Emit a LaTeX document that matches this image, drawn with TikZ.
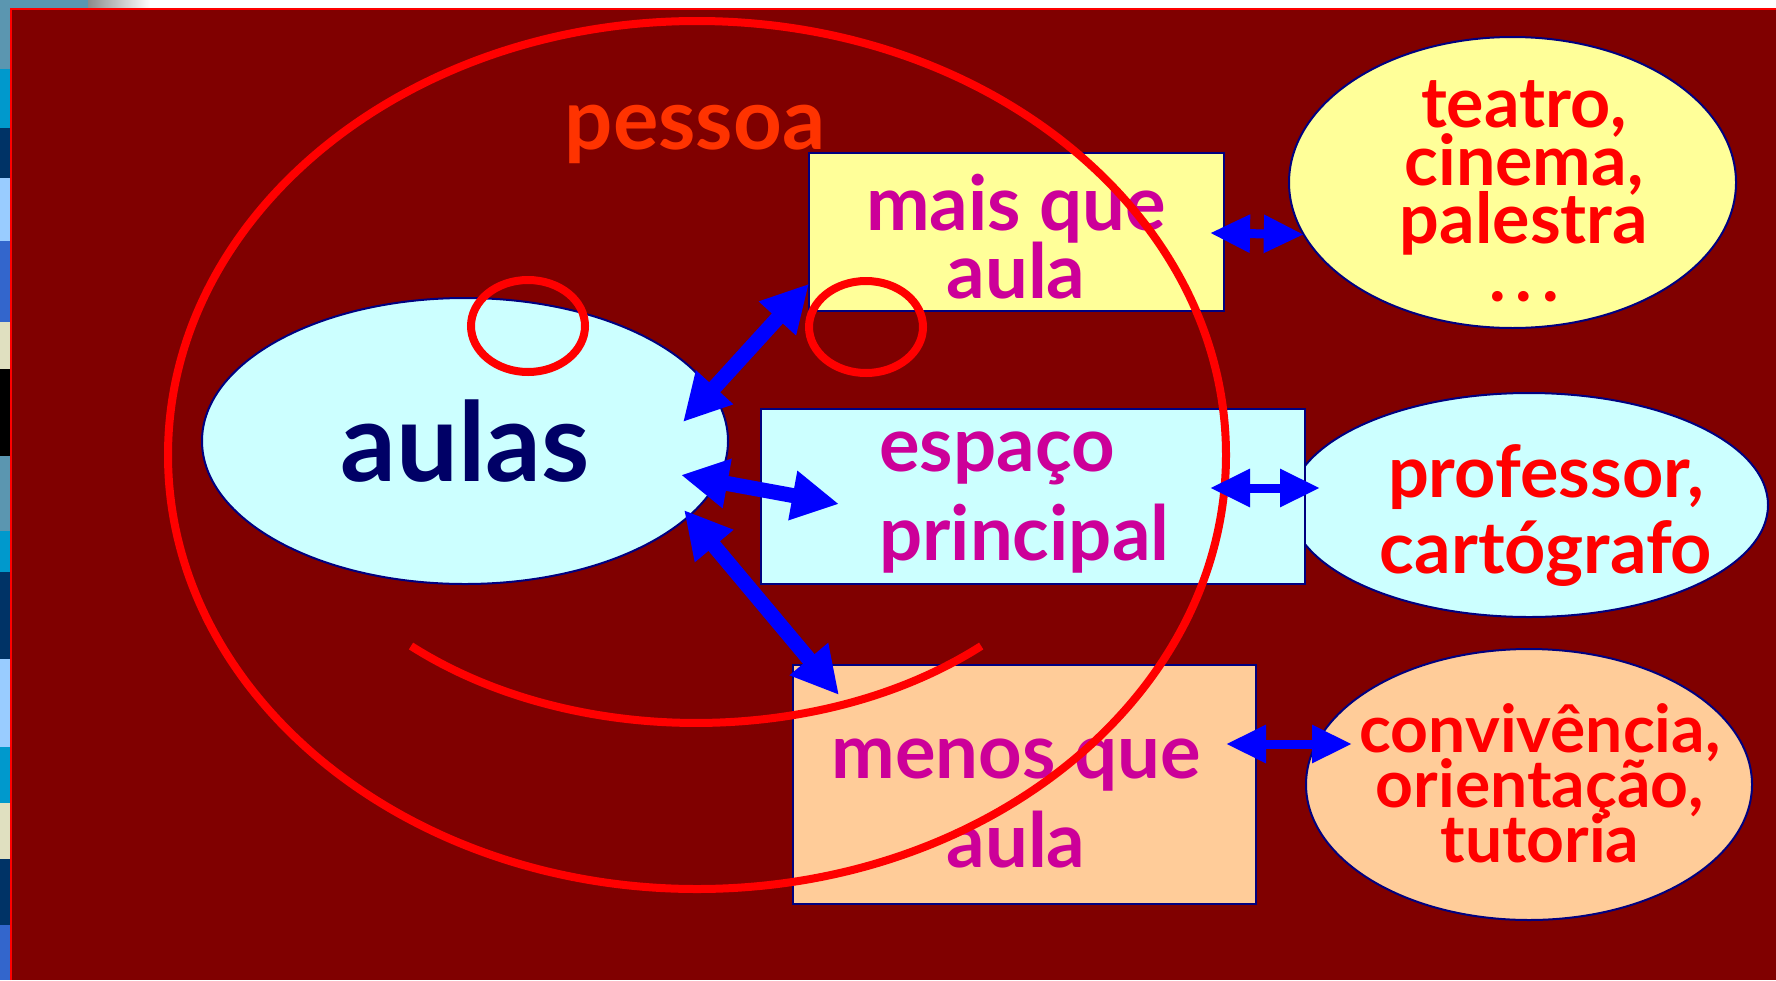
\documentclass[tikz,border=0pt]{standalone}
\usepackage{fontspec}
\setmainfont{Lato}
\usepackage{tikz}
\usetikzlibrary{arrows.meta,shapes.geometric}
\setlength{\lineskiplimit}{-100pt}
\definecolor{slidebg}{HTML}{800000}
\definecolor{ringred}{HTML}{FF0000}
\definecolor{arrowblue}{HTML}{0000FF}
\definecolor{edgenavy}{HTML}{000080}
\definecolor{paleyellow}{HTML}{FFFF99}
\definecolor{palecyan}{HTML}{CCFFFF}
\definecolor{palepeach}{HTML}{FFCC99}
\definecolor{boxtext}{HTML}{CC0099}
\definecolor{pessoared}{HTML}{FF3300}
\definecolor{aulasnavy}{HTML}{000066}
\definecolor{stripteal}{HTML}{5B96B0}
\definecolor{stripcyan}{HTML}{0099CC}
\definecolor{stripnavy}{HTML}{003366}
\definecolor{stripsky}{HTML}{99CCFF}
\definecolor{stripblue}{HTML}{3366CC}
\definecolor{stripbeige}{HTML}{E0E0C0}
\tikzset{
    x=1pt, y=-1pt,
    font=\bfseries,
    plain world/.style={draw=edgenavy, line width=2pt, inner sep=0pt, outer sep=0pt},
    box world/.style={plain world, rectangle},
    oval world/.style={plain world, ellipse},
    box text/.style={text=boxtext, align=center, anchor=base, inner sep=0pt, font=\bfseries\fontsize{76}{68}\selectfont},
    oval text/.style={text=ringred, align=center, anchor=base, inner sep=0pt},
    ring/.style={draw=ringred, line width=8pt},
    fat arrow/.style={>={Triangle[length=47pt,width=47pt]}, <->, draw=arrowblue, line width=15pt},
    slim arrow/.style={>={Triangle[length=40pt,width=36pt]}, <->, draw=arrowblue, line width=9pt}
}
\begin{document}
\begin{tikzpicture}
    \useasboundingbox (0,0) rectangle (1776,980);
    % slide frame
    \fill[white] (0,0) rectangle (1776,8);
    \fill[stripteal] (0,0) rectangle (88,8);
    \shade[left color=black!45, right color=white] (88,0) rectangle (150,8);
    \foreach \ya/\yb/\tone in {0/69/stripteal, 69/128/stripcyan, 128/178/stripnavy, 178/241/stripsky, 241/322/stripblue, 322/369/stripbeige, 369/456/black, 456/531/stripteal, 531/572/stripcyan, 572/659/stripnavy, 659/747/stripsky, 747/803/stripcyan, 803/859/stripbeige, 859/925/stripnavy, 925/980/stripblue}
        \fill[\tone] (0,\ya) rectangle (10,\yb);
    \fill[slidebg] (10,8) rectangle (1776,980);
    \draw[ringred, line width=2pt] (11,980) -- (11,9) -- (1776,9);
    % worlds
    \node[oval world, fill=palecyan, minimum width=526pt, minimum height=286pt, text=aulasnavy, font=\bfseries\fontsize{110}{110}\selectfont] (aulas) at (465,441) {aulas};
    \node[oval world, fill=paleyellow, minimum width=447pt, minimum height=291pt] (teatro) at (1512.5,182.5) {};
    \node[oval world, fill=palecyan, minimum width=478pt, minimum height=224pt] (professor) at (1529,505) {};
    \node[oval world, fill=palepeach, minimum width=446pt, minimum height=271pt] (convivencia) at (1529,784.5) {};
    \node[box world, fill=paleyellow, minimum width=415pt, minimum height=158pt] (mais) at (1016.5,232) {};
    \node[box world, fill=palecyan, minimum width=544pt, minimum height=175pt] (espaco) at (1033,496.5) {};
    \node[box world, fill=palepeach, minimum width=463pt, minimum height=239pt] (menos) at (1024.5,784.5) {};
    % texts (anchor base = last line)
    \node[text=pessoared, anchor=base, inner sep=0pt, font=\bfseries\fontsize{85}{85}\selectfont] (pessoa) at (695,149) {pessoa};
    \node[box text] (maistxt) at (1016,298) {mais que\\aula};
    \node[box text, align=left, anchor=base west, font=\bfseries\fontsize{76}{89}\selectfont] (espacotxt) at (879,560) {espaço\\principal};
    \node[box text, font=\bfseries\fontsize{76}{89}\selectfont] (menostxt) at (1016,867) {menos que\\aula};
    \node[oval text, font=\bfseries\fontsize{70}{58}\selectfont] (teatrotxt) at (1524,301) {teatro,\\cinema,\\palestra\\.\hspace{10pt}.\hspace{10pt}.};
    \node[oval text, font=\bfseries\fontsize{72}{76}\selectfont] (professortxt) at (1546,573) {professor,\\cartógrafo};
    \node[oval text, font=\bfseries\fontsize{66}{55}\selectfont] (convivenciatxt) at (1540,862) {convivência,\\orientação,\\tutoria};
    % pessoa rings
    \draw[ring] (697,455) ellipse [x radius=529, y radius=434];
    \draw[ring] (528,326) ellipse [x radius=57, y radius=46];
    \draw[ring] (866,327) ellipse [x radius=57, y radius=46];
    \draw[ring] (411,646) arc [start angle=132.5, end angle=47.5, x radius=422, y radius=293];
    \path
        ([shift={(-45,-19)}]aulas.east) edge [fat arrow] (mais.194)
        ([shift={(-47,34)}]aulas.east) edge [fat arrow] ([shift={(78,7.5)}]espaco.west)
        ([shift={(-44,69)}]aulas.east) edge [fat arrow] ([shift={(46,30)}]menos.north west)
        ([shift={(-14,1)}]mais.east) edge [slim arrow] (teatro.194)
        ([shift={(-95,-8.5)}]espaco.east) edge [slim arrow] ([shift={(30,-17)}]professor.west)
        ([shift={(-30,-40.5)}]menos.east) edge [slim arrow] ([shift={(46,-40.5)}]convivencia.west);
\end{tikzpicture}
\end{document}
